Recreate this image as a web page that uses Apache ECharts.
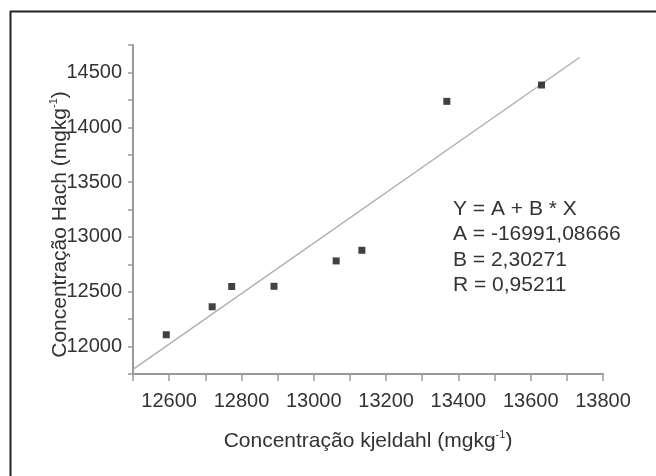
<!DOCTYPE html>
<html>
<head>
<meta charset="utf-8">
<script src="https://cdn.jsdelivr.net/npm/echarts@6/dist/echarts.min.js"></script>
<style>
html,body{margin:0;padding:0;background:#fff;}
#chart{width:656px;height:476px;}
</style>
</head>
<body>
<div id="chart"></div>
<script>
// Data
const kjeldahl = [12592, 12719, 12773, 12890, 13062, 13133, 13368, 13630];
const hach     = [12108, 12363, 12548, 12550, 12781, 12878, 14236, 14385];
// Linear fit line end points (as drawn)
const fitX = [12500, 13735];
const fitY = [11792, 14636];
// Fit annotation lines
const fitText = ['Y = A + B * X', 'A = -16991,08666', 'B = 2,30271', 'R = 0,95211'];
// Axis settings
const xMin = 12500, xMax = 13800, xStep = 100, xLabelStep = 200;
const yMin = 11750, yMax = 14750, yStep = 250, yLabelStep = 500;

const FONT = '"Liberation Sans", Arial, sans-serif';
const chart = echarts.init(document.getElementById('chart'), null, {renderer: 'canvas'});

const points = kjeldahl.map((x, i) => [x, hach[i]]);
const fitLine = fitX.map((x, i) => [x, fitY[i]]);

const nameRich = {
  a: {fontSize: 21, fontFamily: FONT, color: '#333', lineHeight: 24},
  s: {fontSize: 11, fontFamily: FONT, color: '#333', lineHeight: 24, verticalAlign: 'top', padding: [0, 0, 10, 0]}
};

chart.setOption({
  animation: false,
  backgroundColor: '#fff',
  grid: {left: 133, right: 53, top: 45, bottom: 102, containLabel: false},
  xAxis: {
    type: 'value', min: xMin, max: xMax, interval: xStep,
    name: '{a|Concentração kjeldahl (mgkg}{s|-1}{a|)}',
    nameLocation: 'middle', nameGap: 55, nameMoveOverlap: false,
    nameTextStyle: {rich: nameRich},
    axisLine: {show: true, lineStyle: {color: '#999', width: 2}},
    axisTick: {show: true, length: 7, lineStyle: {color: '#999', width: 1.5}},
    splitLine: {show: false},
    axisLabel: {
      margin: 17, fontSize: 20, fontFamily: FONT, color: '#333',
      showMinLabel: true, showMaxLabel: true,
      formatter: v => (v % xLabelStep === 0 ? String(v) : '')
    }
  },
  yAxis: {
    type: 'value', min: yMin, max: yMax, interval: yStep,
    name: '{a|Concentração Hach (mgkg}{s|-1}{a|)}',
    nameLocation: 'middle', nameGap: 61, nameRotate: 90, nameMoveOverlap: false,
    nameTextStyle: {rich: nameRich, padding: [0, 30, 0, 0]},
    axisLine: {show: true, lineStyle: {color: '#999', width: 2}},
    axisTick: {show: true, length: 5, lineStyle: {color: '#999', width: 1.5}},
    splitLine: {show: false},
    axisLabel: {
      margin: 11, fontSize: 20, fontFamily: FONT, color: '#333',
      showMinLabel: true, showMaxLabel: true,
      formatter: v => (v % yLabelStep === 0 ? String(v) : '')
    }
  },
  series: [
    {
      type: 'line', data: fitLine, showSymbol: false, symbol: 'none',
      lineStyle: {color: '#b0b0b0', width: 1.5}, z: 1, silent: true
    },
    {
      type: 'scatter', data: points, symbol: 'rect', symbolSize: 7,
      itemStyle: {color: '#111'}, z: 3
    }
  ],
  graphic: [
    {
      type: 'rect', shape: {x: 10.5, y: 11.5, width: 700, height: 520},
      style: {fill: 'none', stroke: '#222', lineWidth: 2}, silent: true, z: 10
    },
    {
      type: 'text', left: 453, top: 196,
      style: {
        text: fitText.join('\n'), font: '21px ' + FONT, fill: '#333', lineHeight: 25.5
      }, z: 5
    }
  ]
});
</script>
</body>
</html>
